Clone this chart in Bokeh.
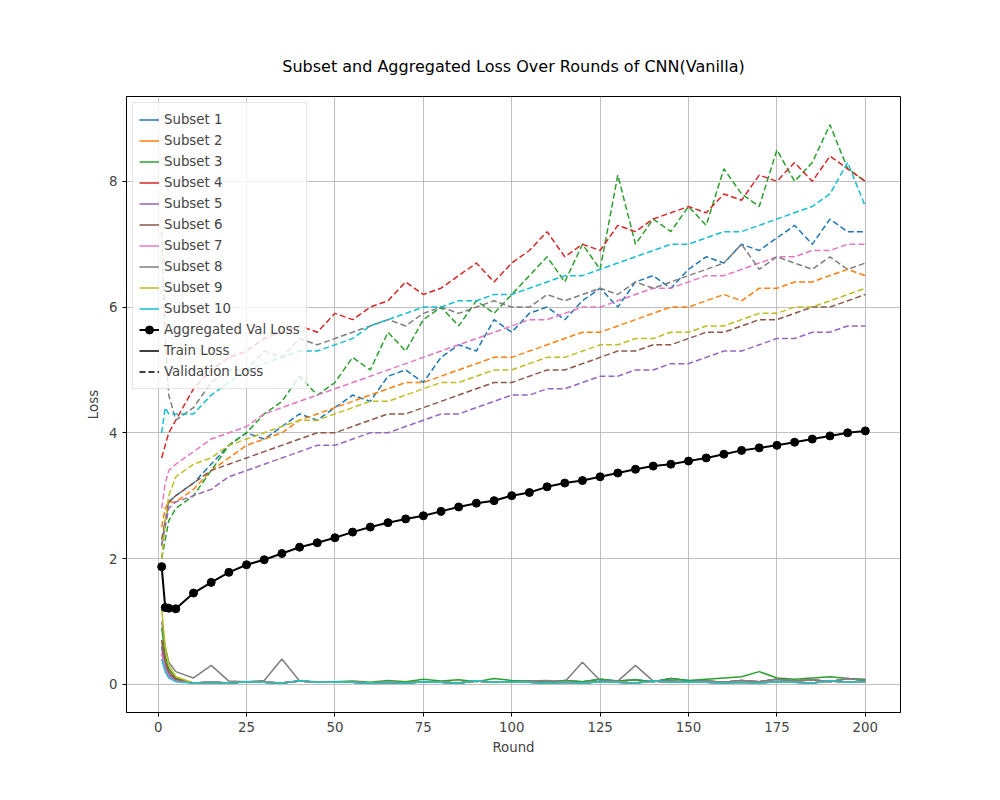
from bokeh.plotting import figure
from bokeh.models import Range1d, FixedTicker, Legend, LegendItem
from bokeh.embed import file_html
from bokeh.resources import INLINE

rounds = [1, 2, 3] + list(range(5, 201, 5))

val = {
    "Subset 1": [2.2, 2.6, 2.9] + [3.0, 3.2, 3.5, 3.8, 4.0, 3.9, 4.1, 4.3, 4.2, 4.4] + [4.6, 4.5, 4.9, 5.0, 4.8, 5.2, 5.4, 5.3, 5.8, 5.6] + [5.9, 6.0, 5.8, 6.1, 6.3, 6.0, 6.4, 6.5, 6.3, 6.6] + [6.8, 6.7, 7.0, 6.9, 7.1, 7.3, 7.0, 7.4, 7.2, 7.2],
    "Subset 2": [2.5, 2.8, 2.9] + [2.9, 3.1, 3.4, 3.6, 3.8, 3.9, 4.0, 4.2, 4.3, 4.4] + [4.5, 4.6, 4.7, 4.8, 4.8, 4.9, 5.0, 5.1, 5.2, 5.2] + [5.3, 5.4, 5.5, 5.6, 5.6, 5.7, 5.8, 5.9, 6.0, 6.0] + [6.1, 6.2, 6.1, 6.3, 6.3, 6.4, 6.4, 6.5, 6.6, 6.5],
    "Subset 3": [2.0, 2.3, 2.6] + [2.8, 3.0, 3.4, 3.8, 4.0, 4.3, 4.5, 4.9, 4.6, 4.8] + [5.2, 5.0, 5.6, 5.3, 5.8, 6.0, 5.7, 6.1, 5.9, 6.2] + [6.5, 6.8, 6.4, 7.0, 6.6, 8.1, 7.0, 7.4, 7.2, 7.6] + [7.3, 8.2, 7.8, 7.6, 8.5, 8.0, 8.3, 8.9, 8.2, 8.0],
    "Subset 4": [3.6, 3.8, 4.0] + [4.2, 4.7, 5.0, 5.2, 5.3, 5.5, 5.6, 5.7, 5.6, 5.9] + [5.8, 6.0, 6.1, 6.4, 6.2, 6.3, 6.5, 6.7, 6.4, 6.7] + [6.9, 7.2, 6.8, 7.0, 6.9, 7.3, 7.2, 7.4, 7.5, 7.6] + [7.5, 7.8, 7.7, 8.1, 8.0, 8.3, 8.0, 8.4, 8.2, 8.0],
    "Subset 5": [2.2, 2.5, 2.8] + [2.9, 3.0, 3.1, 3.3, 3.4, 3.5, 3.6, 3.7, 3.8, 3.8] + [3.9, 4.0, 4.0, 4.1, 4.2, 4.3, 4.3, 4.4, 4.5, 4.6] + [4.6, 4.7, 4.7, 4.8, 4.9, 4.9, 5.0, 5.0, 5.1, 5.1] + [5.2, 5.3, 5.3, 5.4, 5.5, 5.5, 5.6, 5.6, 5.7, 5.7],
    "Subset 6": [2.3, 2.6, 2.9] + [3.0, 3.2, 3.4, 3.5, 3.6, 3.7, 3.8, 3.9, 4.0, 4.0] + [4.1, 4.2, 4.3, 4.3, 4.4, 4.5, 4.6, 4.7, 4.8, 4.8] + [4.9, 5.0, 5.0, 5.1, 5.2, 5.3, 5.3, 5.4, 5.4, 5.5] + [5.6, 5.6, 5.7, 5.8, 5.8, 5.9, 6.0, 6.0, 6.1, 6.2],
    "Subset 7": [2.8, 3.2, 3.4] + [3.5, 3.7, 3.9, 4.0, 4.1, 4.3, 4.4, 4.5, 4.6, 4.7] + [4.8, 4.9, 5.0, 5.1, 5.2, 5.3, 5.4, 5.5, 5.6, 5.7] + [5.8, 5.8, 5.9, 6.0, 6.0, 6.1, 6.2, 6.3, 6.3, 6.4] + [6.5, 6.5, 6.6, 6.7, 6.8, 6.8, 6.9, 6.9, 7.0, 7.0],
    "Subset 8": [7.2, 5.5, 4.6] + [4.2, 4.4, 4.8, 5.0, 5.0, 5.3, 5.2, 5.5, 5.4, 5.5] + [5.6, 5.7, 5.8, 5.7, 5.9, 6.0, 5.9, 6.0, 6.1, 6.0] + [6.0, 6.2, 6.1, 6.2, 6.3, 6.2, 6.4, 6.3, 6.4, 6.5] + [6.6, 6.7, 7.0, 6.6, 6.8, 6.7, 6.6, 6.8, 6.6, 6.7],
    "Subset 9": [2.0, 2.6, 3.0] + [3.3, 3.5, 3.6, 3.8, 3.9, 4.0, 4.1, 4.2, 4.2, 4.3] + [4.4, 4.5, 4.5, 4.6, 4.7, 4.8, 4.8, 4.9, 5.0, 5.0] + [5.1, 5.2, 5.2, 5.3, 5.4, 5.4, 5.5, 5.5, 5.6, 5.6] + [5.7, 5.7, 5.8, 5.9, 5.9, 6.0, 6.0, 6.1, 6.2, 6.3],
    "Subset 10": [4.0, 4.4, 4.3] + [4.3, 4.3, 4.6, 4.8, 5.0, 5.1, 5.2, 5.3, 5.3, 5.4] + [5.5, 5.7, 5.8, 5.9, 6.0, 6.0, 6.1, 6.1, 6.2, 6.2] + [6.3, 6.4, 6.5, 6.5, 6.6, 6.7, 6.8, 6.9, 7.0, 7.0] + [7.1, 7.2, 7.2, 7.3, 7.4, 7.5, 7.6, 7.8, 8.3, 7.6],
}

low_a = [0.03, 0.02, 0.03, 0.02, 0.04, 0.03, 0.02, 0.05, 0.03, 0.04]
low_b = [0.05, 0.03, 0.06, 0.04, 0.08, 0.05, 0.07, 0.04, 0.09, 0.06]
train = {
    "Subset 1": [0.6, 0.3, 0.15, 0.06] + low_a[1:] + low_a + low_b + low_b,
    "Subset 2": [0.7, 0.35, 0.2, 0.08] + low_a[1:] + low_a + low_a + low_b,
    "Subset 3": [0.9, 0.45, 0.25, 0.1] + low_a[1:] + low_b + low_b + [0.08, 0.1, 0.12, 0.2, 0.1, 0.08, 0.1, 0.12, 0.09, 0.08],
    "Subset 4": [0.5, 0.25, 0.12, 0.05] + low_a[1:] + low_a + low_a + low_a,
    "Subset 5": [0.6, 0.3, 0.15, 0.06] + low_a[1:] + low_a + low_a + low_b,
    "Subset 6": [0.7, 0.35, 0.2, 0.08] + low_a[1:] + low_a + low_a + low_a,
    "Subset 7": [0.5, 0.25, 0.12, 0.05] + low_a[1:] + low_a + low_a + low_a,
    "Subset 8": [1.0, 0.6, 0.35, 0.2] + [0.1, 0.3, 0.05, 0.04, 0.06, 0.4, 0.05, 0.04, 0.03] + low_a + [0.05, 0.06, 0.04, 0.35, 0.06, 0.05, 0.3, 0.05, 0.06, 0.04] + low_b,
    "Subset 9": [1.2, 0.6, 0.3, 0.12] + low_a[1:] + low_a + low_a + low_a,
    "Subset 10": [0.4, 0.2, 0.1, 0.04] + low_a[1:] + low_a + low_a + low_a,
}

agg_val = [1.87, 1.22, 1.21] + [1.2, 1.45, 1.62, 1.78, 1.9, 1.98, 2.08, 2.18, 2.25, 2.33] + [2.42, 2.5, 2.57, 2.63, 2.68, 2.75, 2.82, 2.88, 2.92, 3.0] + [3.05, 3.14, 3.2, 3.24, 3.3, 3.36, 3.42, 3.47, 3.5, 3.55] + [3.6, 3.66, 3.72, 3.76, 3.8, 3.85, 3.9, 3.95, 4.0, 4.03]

colors = ["#1f77b4", "#ff7f0e", "#2ca02c", "#d62728", "#9467bd",
          "#8c564b", "#e377c2", "#7f7f7f", "#bcbd22", "#17becf"]

p = figure(width=984, height=784, output_backend="svg", toolbar_location=None,
           x_range=Range1d(-8.95, 209.95), y_range=Range1d(-0.45, 9.35),
           min_border_left=126, min_border_right=84, min_border_top=96, min_border_bottom=72)
p.title.text = "Subset and Aggregated Loss Over Rounds of CNN(Vanilla)"
p.title.align = "center"
p.title.text_font = "DejaVu Sans"
p.title.text_font_size = "12pt"
p.title.text_font_style = "normal"
p.title.text_color = "black"
p.title.offset = 0
p.title.standoff = 42

items = []
for name, c in zip(val.keys(), colors):
    r = p.line(rounds, train[name], color=c, line_width=1.5)
    p.line(rounds, val[name], color=c, line_width=1.5, line_dash="6 3")
    items.append(LegendItem(label=name, renderers=[r]))

ra = p.line(rounds, agg_val, color="black", line_width=2)
rb = p.scatter(rounds, agg_val, color="black", size=8)
items.append(LegendItem(label="Aggregated Val Loss", renderers=[ra, rb]))
# legend-only keys, drawn outside the visible x range
rt = p.line([-100, -99], [0, 0], color="black", line_width=1.5)
rv = p.line([-100, -99], [0, 0], color="black", line_width=1.5, line_dash="6 3")
items.append(LegendItem(label="Train Loss", renderers=[rt]))
items.append(LegendItem(label="Validation Loss", renderers=[rv]))

leg = Legend(items=items, location="top_left", label_text_font="DejaVu Sans",
             label_text_font_size="10pt", spacing=0, padding=6, margin=6,
             glyph_height=21, label_height=21, border_line_color="#cccccc",
             background_fill_alpha=0.8)
p.add_layout(leg)

p.xaxis.ticker = FixedTicker(ticks=list(range(0, 201, 25)))
p.yaxis.ticker = FixedTicker(ticks=[0, 2, 4, 6, 8])
p.xaxis.axis_label = "Round"
p.yaxis.axis_label = "Loss"
for ax in (p.xaxis, p.yaxis):
    ax.axis_label_text_font = "DejaVu Sans"
    ax.axis_label_text_font_style = "normal"
    ax.axis_label_text_font_size = "10pt"
    ax.major_label_text_font = "DejaVu Sans"
    ax.major_label_text_font_size = "10pt"
    ax.minor_tick_line_color = None
    ax.major_tick_in = 0
    ax.major_tick_out = 4
    ax.axis_line_color = "black"
p.grid.grid_line_color = "#b0b0b0"
p.grid.grid_line_width = 0.8
p.outline_line_color = "black"

open("out.html", "w").write(file_html(p, INLINE))
